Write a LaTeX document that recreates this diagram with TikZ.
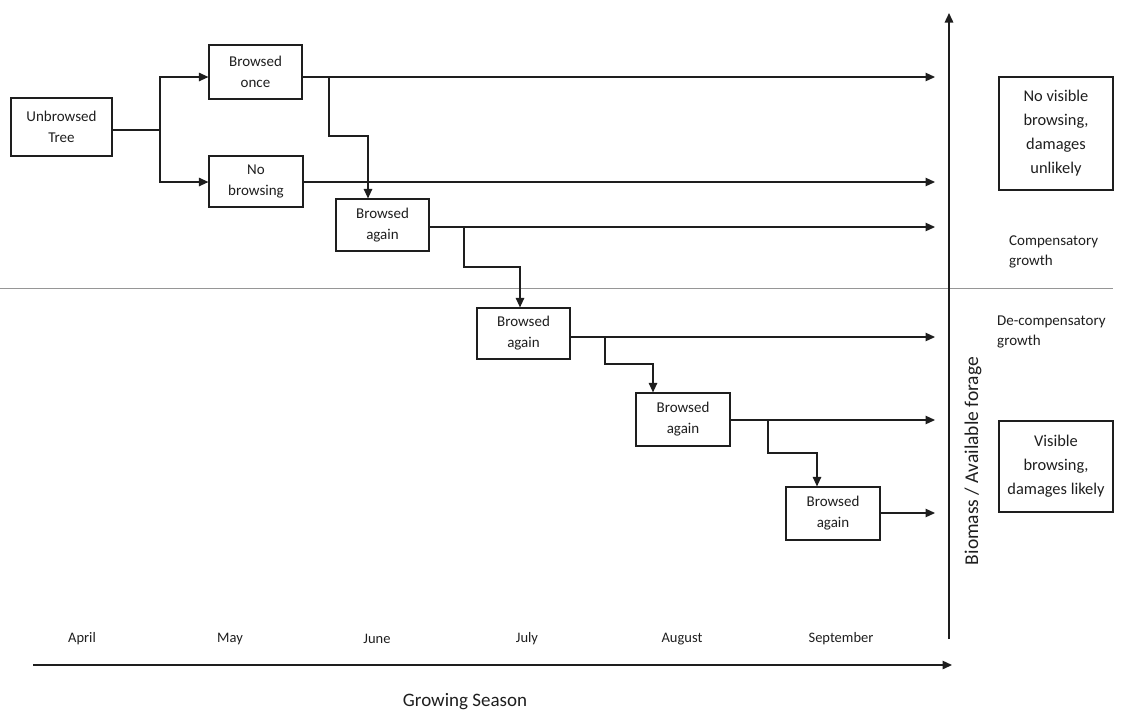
\documentclass[tikz,border=0pt]{standalone}
\usepackage{fontspec}
\setmainfont{Carlito}
\usetikzlibrary{arrows.meta}
\definecolor{ink}{RGB}{30,30,30}
\definecolor{sep}{RGB}{150,150,150}
\tikzset{
  box/.style={draw=ink, line width=1.2pt, rectangle, inner sep=0pt, align=center,
    font=\fontsize{15}{21}\selectfont, text=ink},
  bigbox/.style={box, font=\fontsize{16.4}{24}\selectfont},
  flow/.style={draw=ink, line width=1.2pt, -{Triangle[length=9.5pt,width=8.5pt]}},
  plain/.style={draw=ink, line width=1.2pt},
  axis/.style={draw=ink, line width=1.4pt, -{Triangle[length=9.5pt,width=8.5pt]}},
  month/.style={font=\fontsize{14.5}{18}\selectfont, text=ink},
  note/.style={font=\fontsize{15}{20}\selectfont, text=ink, align=left, anchor=west, inner sep=0pt}
}
\begin{document}
\begin{tikzpicture}[x=1pt,y=-1pt]
\useasboundingbox (0,0) rectangle (1124,713);
% separator
\draw[sep, line width=0.9pt] (0,288) -- (1113,288);
% boxes
\node[box, minimum width=101pt, minimum height=58pt] (ut) at (61.5,127) {Unbrowsed\\Tree};
\node[box, minimum width=93pt, minimum height=54pt] (bo) at (255.5,72) {Browsed\\once};
\node[box, minimum width=94pt, minimum height=51pt] (nb) at (256,181.5) {No\\browsing};
\node[box, minimum width=93pt, minimum height=52pt] (ba1) at (382.5,225) {Browsed\\again};
\node[box, minimum width=93pt, minimum height=51pt] (ba2) at (523.5,333.5) {Browsed\\again};
\node[box, minimum width=94pt, minimum height=53pt] (ba3) at (683,419.5) {Browsed\\again};
\node[box, minimum width=94pt, minimum height=53pt] (ba4) at (833,513.5) {Browsed\\again};
\node[bigbox, minimum width=114pt, minimum height=113pt] (nv) at (1056,133.5) {No visible\\browsing,\\damages\\unlikely};
\node[bigbox, minimum width=114pt, minimum height=91pt] (vb) at (1056,466.5) {Visible\\browsing,\\damages likely};
% coordinates
\coordinate (j0) at (160,130);
\coordinate (e1) at (935,77);
\coordinate (e2) at (935,182);
\coordinate (e3) at (935,227);
\coordinate (e4) at (935,337);
\coordinate (e5) at (935,420);
\coordinate (e6) at (935,513);
\coordinate (b1) at (329,77);  \coordinate (k1) at (368,136);
\coordinate (b2) at (464,227); \coordinate (k2) at (520,267);
\coordinate (b3) at (605,337); \coordinate (k3) at (653,364);
\coordinate (b4) at (768,420); \coordinate (k4) at (817,453);
% connectors
\draw[plain] (ut.east |- j0) -- (j0);
\draw[flow] (j0) |- (bo.west |- e1);
\draw[flow] (j0) |- (nb.west |- e2);
\draw[flow] (bo.east |- e1) -- (e1);
\draw[flow] (nb.east |- e2) -- (e2);
\draw[flow] (ba1.east |- e3) -- (e3);
\draw[flow] (ba2.east |- e4) -- (e4);
\draw[flow] (ba3.east |- e5) -- (e5);
\draw[flow] (ba4.east |- e6) -- (e6);
\draw[flow] (b1) |- (k1) -- (k1 |- ba1.north);
\draw[flow] (b2) |- (k2) -- (k2 |- ba2.north);
\draw[flow] (b3) |- (k3) -- (k3 |- ba3.north);
\draw[flow] (b4) |- (k4) -- (k4 |- ba4.north);
% axes
\coordinate (yb) at (949,639); \coordinate (yt) at (949,13);
\coordinate (xl) at (33,665); \coordinate (xr) at (952,665);
\draw[axis] (yb) -- (yt);
\draw[axis] (xl) -- (xr);
% axis labels
\node[rotate=90, font=\fontsize{19.5}{22}\selectfont, text=ink] (ylab) at (973,461) {Biomass / Available forage};
\node[font=\fontsize{19}{22}\selectfont, text=ink] (xlab) at (465,702) {Growing Season};
% months
\node[month] (m1) at (82,639) {April};
\node[month] (m2) at (230,639) {May};
\node[month] (m3) at (377,639) {June};
\node[month] (m4) at (527,639) {July};
\node[month] (m5) at (682,639) {August};
\node[month] (m6) at (841,639) {September};
% notes
\node[note] (cg) at (1009,252) {Compensatory\\growth};
\node[note] (dg) at (997,332) {De-compensatory\\growth};
\end{tikzpicture}
\end{document}
